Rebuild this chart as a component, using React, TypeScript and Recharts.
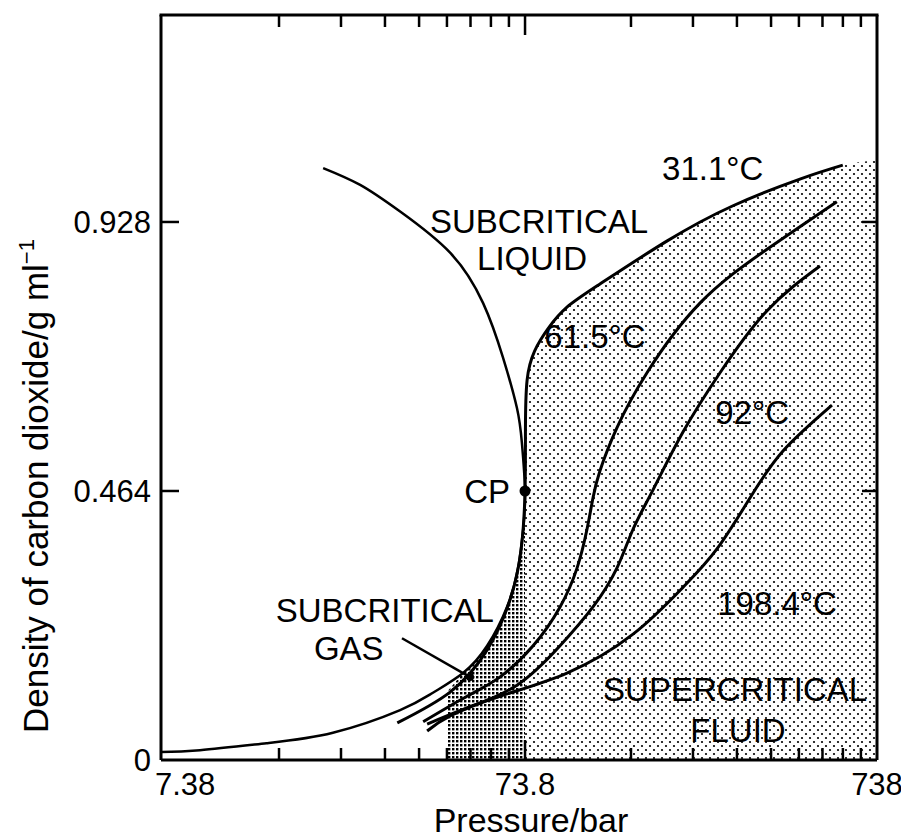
import React from 'react'
import {
  ComposedChart, Line, Area, XAxis, YAxis, ReferenceDot, ReferenceLine,
} from 'recharts'

// [pressure in bar, density in g/ml]
const coexistence = [
  [19.7, 1.021], [25.1, 0.992], [32.6, 0.946], [45.2, 0.875], [56.1, 0.788],
  [63.9, 0.694], [70.0, 0.607], [72.3, 0.547], [73.8, 0.464], [72.9, 0.398],
  [70.5, 0.331], [65.6, 0.264], [57.6, 0.197], [49.2, 0.15], [40.4, 0.116],
  [32.6, 0.086], [21.0, 0.047], [13.6, 0.029], [8.8, 0.017], [6.82, 0.014],
]
const iso311 = [
  [32.0, 0.064], [45.2, 0.117], [57.6, 0.19], [66.9, 0.276], [71.9, 0.362],
  [73.8, 0.464], [74.0, 0.57], [74.8, 0.655], [78.5, 0.705], [86.0, 0.745],
  [97.1, 0.781], [120.5, 0.821], [186.6, 0.895], [287.7, 0.956], [445.7, 1.002],
  [590, 1.026],
]
const iso615 = [
  [37.9, 0.066], [50.5, 0.11], [62.6, 0.143], [77.8, 0.197], [92.8, 0.264],
  [103.7, 0.331], [110.7, 0.398], [115.1, 0.452], [120.5, 0.499], [134.6, 0.573],
  [163.9, 0.668], [231.8, 0.788], [359.5, 0.881], [567.5, 0.963],
]
const iso92 = [
  [38.9, 0.062], [50.5, 0.09], [70.0, 0.129], [92.8, 0.197], [115.1, 0.264],
  [134.6, 0.331], [149.6, 0.398], [170.5, 0.466], [207.6, 0.566], [264.3, 0.668],
  [359.5, 0.775], [508.3, 0.852],
]
const iso1984 = [
  [38.9, 0.05], [45.2, 0.076], [62.6, 0.11], [97.1, 0.15], [149.6, 0.217],
  [207.6, 0.298], [259, 0.364], [321.5, 0.452], [399, 0.533], [549.7, 0.612],
]
// shaded regions
const supercriticalZone = [
  [73.8, 0.6], [74.0, 0.62], [74.8, 0.655], [78.5, 0.705], [86.0, 0.745],
  [97.1, 0.781], [120.5, 0.821], [186.6, 0.895], [287.7, 0.956], [445.7, 1.002],
  [590, 1.026], [738, 1.035],
]
const gasZone = [
  [44.4, 0.118], [49.2, 0.15], [57.6, 0.197], [65.6, 0.264], [70.5, 0.331],
  [72.9, 0.398], [73.8, 0.43],
]
const criticalPoint = [73.8, 0.464]

const xTicks = [
  7.38, 14.76, 22.14, 29.52, 36.9, 44.28, 51.66, 59.04, 66.42,
  73.8, 147.6, 221.4, 295.2, 369, 442.8, 516.6, 590.4, 664.2, 738,
]
const xLabels = [7.38, 73.8, 738]
const yTicks = [0, 0.464, 0.928]

const annotations: [string, number, number][] = [
  ['31.1°C', 252, 1.021],
  ['SUBCRITICAL', 80.9, 0.93],
  ['LIQUID', 77.3, 0.866],
  ['61.5°C', 116.6, 0.73],
  ['92°C', 326, 0.599],
  ['CP', 57.6, 0.464],
  ['198.4°C', 383.7, 0.271],
  ['SUBCRITICAL', 29.5, 0.259],
  ['GAS', 23.3, 0.193],
  ['SUPERCRITICAL', 291.7, 0.122],
  ['FLUID', 297.3, 0.052],
]
const gasPointer = [[33.0, 0.21], [51.5, 0.143]]

const FONT = '"Liberation Sans", Arial, Helvetica, sans-serif'
const W = 901
const H = 832
const MARGIN = { top: 7, right: 31, bottom: 0, left: 0 }
const Y_AXIS_W = 153
const X_AXIS_H = 80
const PLOT = {
  x: MARGIN.left + Y_AXIS_W,
  y: MARGIN.top,
  w: W - MARGIN.left - Y_AXIS_W - MARGIN.right - 1,
  h: H - MARGIN.top - X_AXIS_H,
}
const X_DOMAIN = [6.82, 738]
const Y_MAX = 1.285
const pts = (arr: number[][]) => arr.map(([p, rho]) => ({ p, rho }))
// same log mapping as the x axis, only for the frame's top ticks
const logX = (v: number) =>
  PLOT.x + (PLOT.w * Math.log(v / X_DOMAIN[0])) / Math.log(X_DOMAIN[1] / X_DOMAIN[0])

function BottomTick({ x, y, payload }: any) {
  const v = payload.value
  const len = v === 73.8 ? 20 : 12
  return (
    <g>
      {v !== 7.38 && v !== 738 && (
        <line x1={x} x2={x} y1={y} y2={y - len} stroke="#000" strokeWidth={2.5} />
      )}
      {xLabels.includes(v) && (
        <text x={x + (v === 7.38 ? 12 : 0)} y={y + 35} textAnchor="middle" fontSize={31} fill="#000">
          {String(v)}
        </text>
      )}
    </g>
  )
}

function LeftTick({ x, y, payload }: any) {
  const v = payload.value
  return (
    <g>
      {v > 0 && <line x1={x} x2={x + 18} y1={y} y2={y} stroke="#000" strokeWidth={2.5} />}
      <text x={x - 10} y={y} dy={11} textAnchor="end" fontSize={31} fill="#000">
        {String(v)}
      </text>
    </g>
  )
}

function RightTick({ x, y, payload }: any) {
  if (payload.value <= 0) return <g />
  return <line x1={x} x2={x - 15} y1={y} y2={y} stroke="#000" strokeWidth={2.5} />
}

function YTitle() {
  return (
    <text transform="translate(40,478) rotate(-90)" textAnchor="middle" fontSize={35} fill="#000">
      Density of carbon dioxide/g ml
      <tspan fontSize={22} dy={-14}>−1</tspan>
    </text>
  )
}

function XTitle() {
  return (
    <text x={523} y={824} textAnchor="middle" fontSize={34} fill="#000">
      Pressure/bar
    </text>
  )
}

// top edge of the frame with its inward ticks, drawn over the chart
function TopFrame() {
  const topTicks = xTicks.filter(v => v !== 7.38 && v !== 738)
  return (
    <svg
      width={W} height={H}
      style={{ position: 'absolute', left: 0, top: 0, pointerEvents: 'none' }}
    >
      <line x1={PLOT.x - 1.5} x2={PLOT.x + PLOT.w + 1.5} y1={PLOT.y} y2={PLOT.y} stroke="#000" strokeWidth={3} />
      {topTicks.map(v => (
        <line
          key={v}
          x1={logX(v)} x2={logX(v)}
          y1={PLOT.y} y2={PLOT.y + (v === 73.8 ? 20 : 12)}
          stroke="#000" strokeWidth={2.5}
        />
      ))}
    </svg>
  )
}

export default function App() {
  const lineProps = {
    dataKey: 'rho',
    stroke: '#000',
    dot: false,
    activeDot: false,
    isAnimationActive: false,
  } as const
  return (
    <div style={{ position: 'relative', width: W, height: H, fontFamily: FONT }}>
      <ComposedChart width={W} height={H} margin={MARGIN}>
        <defs>
          <pattern id="co2dots" width="8" height="8" patternUnits="userSpaceOnUse">
            <circle cx="2" cy="2" r="1.1" fill="#000" />
            <circle cx="6" cy="6" r="1.1" fill="#000" />
          </pattern>
          <pattern id="co2grid" width="4" height="4" patternUnits="userSpaceOnUse">
            <rect x="0" y="0" width="2.4" height="2.4" fill="#000" />
          </pattern>
        </defs>
        <XAxis
          dataKey="p" type="number" scale="log" domain={X_DOMAIN} allowDataOverflow
          ticks={xTicks} interval={0} tick={<BottomTick />} tickSize={0} tickMargin={0} tickLine={false}
          height={X_AXIS_H} axisLine={{ stroke: '#000', strokeWidth: 3 }}
        />
        <YAxis
          type="number" domain={[0, Y_MAX]} allowDataOverflow ticks={yTicks} interval={0}
          tick={<LeftTick />} tickSize={0} tickMargin={0} tickLine={false} width={Y_AXIS_W}
          axisLine={{ stroke: '#000', strokeWidth: 3 }}
        />
        <YAxis
          yAxisId="right" orientation="right" type="number" domain={[0, Y_MAX]} allowDataOverflow
          ticks={yTicks} interval={0} tick={<RightTick />} tickSize={0} tickMargin={0} tickLine={false}
          width={1} axisLine={{ stroke: '#000', strokeWidth: 3 }}
        />
        <Area data={pts(supercriticalZone)} dataKey="rho" type="natural" stroke="none"
          fill="url(#co2dots)" fillOpacity={1} isAnimationActive={false} dot={false} activeDot={false} />
        <Area data={pts(gasZone)} dataKey="rho" type="monotone" stroke="none"
          fill="url(#co2grid)" fillOpacity={1} isAnimationActive={false} dot={false} activeDot={false} />
        <Line data={pts(coexistence)} type="natural" strokeWidth={2.5} {...lineProps} />
        <Line data={pts(iso311)} type="natural" strokeWidth={3} {...lineProps} />
        <Line data={pts(iso615)} type="natural" strokeWidth={3} {...lineProps} />
        <Line data={pts(iso92)} type="natural" strokeWidth={3} {...lineProps} />
        <Line data={pts(iso1984)} type="natural" strokeWidth={3} {...lineProps} />
        <ReferenceLine
          segment={gasPointer.map(([x, y]) => ({ x, y }))}
          stroke="#000" strokeWidth={2.5}
        />
        <ReferenceDot x={gasPointer[1][0]} y={gasPointer[1][1]} r={4} fill="#000" stroke="none" />
        <ReferenceDot x={criticalPoint[0]} y={criticalPoint[1]} r={5.5} fill="#000" stroke="none" />
        {annotations.map(([text, p, rho], i) => (
          <ReferenceDot
            key={i} x={p} y={rho} r={0} stroke="none" fill="none"
            label={{ value: text, position: 'center', fontSize: 33, fill: '#000' }}
          />
        ))}
        <YTitle />
        <XTitle />
      </ComposedChart>
      <TopFrame />
    </div>
  )
}
